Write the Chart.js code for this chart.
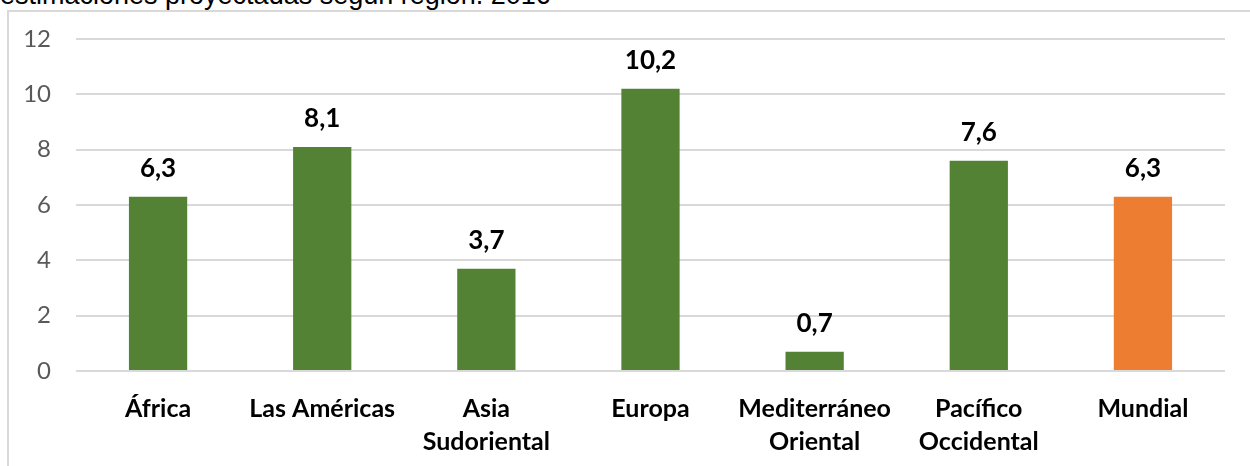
<!DOCTYPE html>
<html>
<head>
<meta charset="utf-8">
<script src="https://cdn.jsdelivr.net/npm/chart.js@4/dist/chart.umd.min.js"></script>
<style>
    body { margin: 0; background: #fff; overflow: hidden; }
    #title {
        position: absolute; left: 0; top: -20px; z-index: 2;
        font: 27px "Liberation Sans", Arial, sans-serif; color: #000; white-space: nowrap;
    }
    #box {
        position: absolute; left: 7px; top: 10px;
        width: 1260px; height: 470px;
        border: 2px solid #d9d9d9; background: #fff;
    }
</style>
</head>
<body>
<div id="title">estimaciones proyectadas según región. 2016</div>
<div id="box"><canvas id="chart" width="1260" height="470"></canvas></div>
<script>
const categories = ['África', 'Las Américas', ['Asia', 'Sudoriental'], 'Europa', ['Mediterráneo', 'Oriental'], ['Pacífico', 'Occidental'], 'Mundial'];
const values = [6.3, 8.1, 3.7, 10.2, 0.7, 7.6, 6.3];
const barColors = ['#548235', '#548235', '#548235', '#548235', '#548235', '#548235', '#ED7D31'];
const yTicks = [0, 2, 4, 6, 8, 10, 12];

// value labels above the bars
const barLabels = {
    id: 'barLabels',
    afterDatasetsDraw(chart) {
        const ctx = chart.ctx;
        const meta = chart.getDatasetMeta(0);
        ctx.save();
        ctx.font = 'bold 26px Lato, "Noto Sans", sans-serif';
        ctx.fillStyle = '#000';
        ctx.textAlign = 'center';
        ctx.textBaseline = 'middle';
        meta.data.forEach((bar, i) => {
            ctx.fillText(values[i].toFixed(1).replace('.', ','), bar.x, bar.y - 28);
        });
        ctx.restore();
    }
};

document.addEventListener('DOMContentLoaded', function () {
    new Chart(document.getElementById('chart').getContext('2d'), {
        type: 'bar',
        data: {
            labels: categories,
            datasets: [{
                data: values,
                backgroundColor: barColors,
                categoryPercentage: 1,
                barPercentage: 0.355
            }]
        },
        options: {
            responsive: false,
            animation: false,
            layout: { padding: { top: 27, right: 1260 - 1216, left: 0, bottom: 0 } },
            plugins: { legend: { display: false }, tooltip: { enabled: false } },
            scales: {
                x: {
                    grid: { display: false },
                    border: { display: false },
                    ticks: {
                        color: '#000',
                        font: { family: 'Lato, "Noto Sans", sans-serif', size: 25, weight: 'bold', lineHeight: 1.3 },
                        padding: 14,
                        maxRotation: 0,
                        autoSkip: false
                    },
                    afterFit(scale) { scale.height = 470 - 359; scale.paddingLeft = 0; scale.paddingRight = 0; }
                },
                y: {
                    min: 0, max: 12,
                    afterBuildTicks(scale) { scale.ticks = yTicks.map(v => ({ value: v })); },
                    grid: { color: '#d9d9d9', lineWidth: 2, drawTicks: false },
                    border: { display: false },
                    ticks: {
                        color: '#595959',
                        font: { family: 'Lato, "Noto Sans", sans-serif', size: 24 },
                        padding: 25
                    },
                    afterFit(scale) { scale.width = 67; scale.paddingTop = 0; scale.paddingBottom = 0; }
                }
            }
        },
        plugins: [barLabels]
    });
});
</script>
</body>
</html>
